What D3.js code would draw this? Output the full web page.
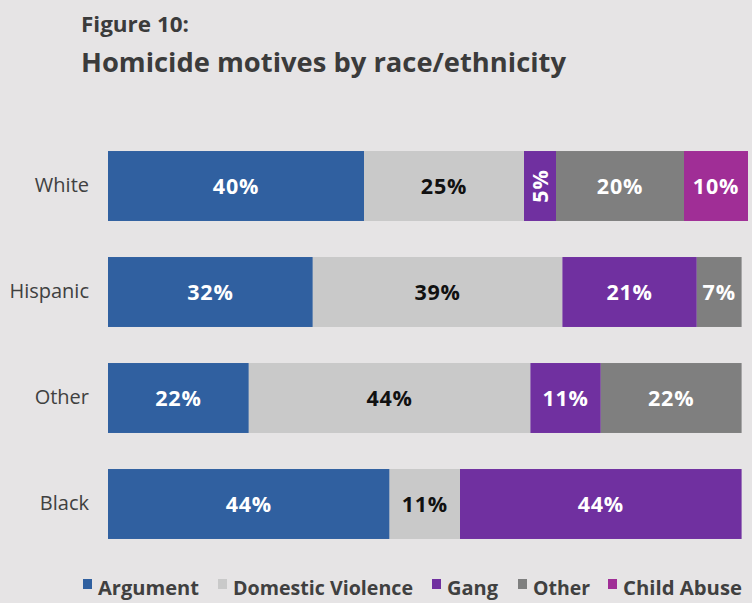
<!DOCTYPE html>
<html>
<head>
<meta charset="utf-8">
<script src="https://cdn.jsdelivr.net/npm/d3@7"></script>
<style>
  body { margin: 0; background: #e6e4e5; }
  svg { display: block; font-family: "Open Sans", "Noto Sans", sans-serif; }
</style>
</head>
<body>
<div id="chart"></div>
<script>
// data (percent of homicides)
var races = ["White", "Hispanic", "Other", "Black"];
var motives = ["Argument", "Domestic Violence", "Gang", "Other", "Child Abuse"];
var argument = [40, 32, 22, 44];
var domestic = [25, 39, 44, 11];
var gang = [5, 21, 11, 44];
var other = [20, 7, 22, 0];
var childAbuse = [10, 0, 0, 0];

var colors = ["#3060a0", "#c9c9c9", "#7030a0", "#7f7f7f", "#a02e96"];
var labelColors = ["#fff", "#111", "#fff", "#fff", "#fff"];

var width = 752, height = 603;

var rows = races.map(function(r, i) {
  return {
    race: r,
    "Argument": argument[i],
    "Domestic Violence": domestic[i],
    "Gang": gang[i],
    "Other": other[i],
    "Child Abuse": childAbuse[i]
  };
});

var svg = d3.select("#chart").append("svg")
  .attr("width", width)
  .attr("height", height);

svg.append("rect").attr("width", width).attr("height", height).attr("fill", "#e6e4e5");

// titles
svg.append("text")
  .attr("x", 81).attr("y", 32)
  .attr("font-size", 21).attr("font-weight", "bold")
  .attr("fill", "#3b3b3b")
  .attr("textLength", 108).attr("lengthAdjust", "spacingAndGlyphs")
  .text("Figure 10:");

svg.append("text")
  .attr("x", 81).attr("y", 72)
  .attr("font-size", 27.5).attr("font-weight", "bold")
  .attr("fill", "#3b3b3b")
  .attr("textLength", 485).attr("lengthAdjust", "spacingAndGlyphs")
  .text("Homicide motives by race/ethnicity");

var x = d3.scaleLinear().domain([0, 100]).range([108, 748]);
var y = d3.scaleBand().domain(races).range([133, 557])
  .paddingInner(0.34).paddingOuter(0.17);

var stack = d3.stack().keys(motives);
var series = stack(rows);

var layer = svg.selectAll("g.layer")
  .data(series)
  .enter().append("g")
  .attr("class", "layer")
  .attr("fill", function(d, i) { return colors[i]; });

layer.selectAll("rect")
  .data(function(d) { return d.filter(function(s) { return s[1] > s[0]; }); })
  .enter().append("rect")
  .attr("x", function(d) { return x(d[0]); })
  .attr("y", function(d) { return y(d.data.race); })
  .attr("width", function(d) { return x(d[1]) - x(d[0]); })
  .attr("height", y.bandwidth());

// value labels
layer.each(function(s, i) {
  d3.select(this).selectAll("text")
    .data(s.filter(function(d) { return d[1] > d[0]; }))
    .enter().append("text")
    .attr("transform", function(d) {
      var cx = (x(d[0]) + x(d[1])) / 2;
      var cy = y(d.data.race) + y.bandwidth() / 2;
      var narrow = x(d[1]) - x(d[0]) < 40;
      return "translate(" + cx + "," + cy + ")" + (narrow ? " rotate(-90)" : "");
    })
    .attr("text-anchor", "middle")
    .attr("dy", "0.36em")
    .attr("font-size", 21.5)
    .attr("font-weight", "bold")
    .attr("letter-spacing", 0.8)
    .attr("fill", labelColors[i])
    .text(function(d) { return (d[1] - d[0]) + "%"; });
});

// category axis
var yAxis = svg.append("g")
  .attr("transform", "translate(108,0)")
  .call(d3.axisLeft(y).tickSize(0).tickPadding(19));
yAxis.select(".domain").remove();
yAxis.selectAll("text")
  .attr("font-size", 20)
  .attr("font-family", "'Open Sans', 'Noto Sans', sans-serif")
  .attr("fill", "#404040");

// legend
var legendX = [83, 218, 432, 518, 608];
var legend = svg.selectAll("g.legend")
  .data(motives)
  .enter().append("g")
  .attr("class", "legend")
  .attr("transform", function(d, i) { return "translate(" + legendX[i] + ",583)"; });

legend.append("rect")
  .attr("x", 0).attr("y", -4)
  .attr("width", 9).attr("height", 10)
  .attr("fill", function(d, i) { return colors[i]; });

legend.append("text")
  .attr("x", 15).attr("y", 5)
  .attr("dy", "0.36em")
  .attr("font-size", 19)
  .attr("font-weight", "bold")
  .attr("fill", "#404040")
  .attr("textLength", function(d, i) { return [101, 180, 51, 57, 119][i]; })
  .attr("lengthAdjust", "spacingAndGlyphs")
  .text(function(d) { return d; });
</script>
</body>
</html>
